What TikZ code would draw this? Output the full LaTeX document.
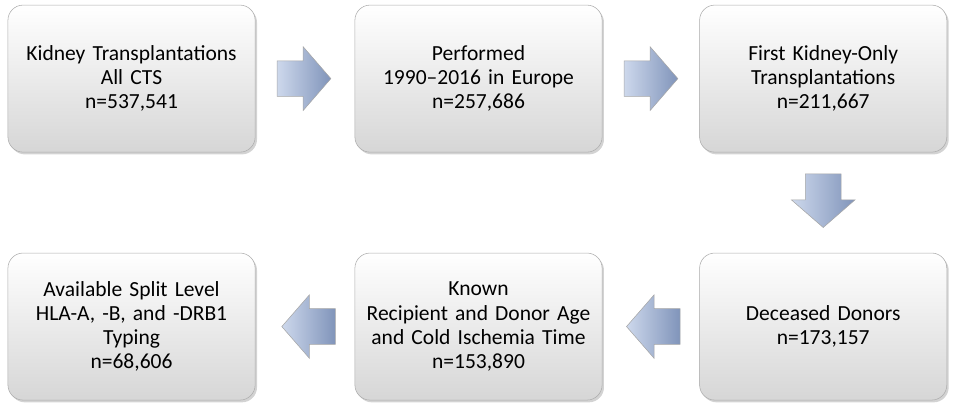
\documentclass[tikz,border=0pt]{standalone}
\usepackage{fontspec}
\setmainfont{Carlito}
\usepackage{xcolor}
\usepackage{tikz}
\usetikzlibrary{shapes.arrows, shadows, positioning, calc}

\definecolor{arrowlight}{RGB}{205,216,236}
\definecolor{arrowdark}{RGB}{128,148,186}
\definecolor{boxbottom}{RGB}{214,214,214}

\begin{document}
\begin{tikzpicture}[
    % Node styles
    stagebox/.style={rectangle, rounded corners=0.4cm, draw=gray!65, top color=white, bottom color=boxbottom, drop shadow={opacity=0.35, shadow xshift=0.05cm, shadow yshift=-0.06cm}, minimum width=6.54cm, minimum height=3.89cm, text centered, text width=6.3cm, font=\fontsize{16.2}{18.2}\selectfont},
    blockarrow/.style={single arrow, draw=gray!70, left color=arrowlight, right color=arrowdark, minimum height=1.42cm, single arrow head extend=0.37cm, single arrow tip angle=98, inner xsep=0pt, inner ysep=0.465cm, anchor=tail}
]

\useasboundingbox (0,0) rectangle (25.32,-10.90);

% === TOP ROW ===
\node[stagebox] (allcts) at (3.48, -2.08) {Kidney Transplantations\\All CTS\\n=537,541};
\node[stagebox] (europe) at (12.66, -2.08) {Performed\\1990--2016 in Europe\\n=257,686};
\node[stagebox] (firstkid) at (21.78, -2.08) {First Kidney-Only\\Transplantations\\n=211,667};

% === BOTTOM ROW ===
\node[stagebox] (deceased) at (21.78, -8.64) {Deceased Donors\\n=173,157};
\node[stagebox] (known) at (12.66, -8.64) {Known\\Recipient and Donor Age\\and Cold Ischemia Time\\n=153,890};
\node[stagebox] (hlatyping) at (3.48, -8.64) {Available Split Level\\HLA-A, -B, and -DRB1\\Typing\\n=68,606};

% Block arrows between the stages (tail just off the box they leave)
\node[blockarrow] (arr1) at ($(allcts.east)+(0.57,0)$) {};
\node[blockarrow] (arr2) at ($(europe.east)+(0.57,0)$) {};
\node[blockarrow, rotate=-90] (arr3) at ($(firstkid.south)+(0,-0.56)$) {};
\node[blockarrow, rotate=180] (arr4) at ($(deceased.west)+(-0.5,0)$) {};
\node[blockarrow, rotate=180] (arr5) at ($(known.west)+(-0.5,0)$) {};

\end{tikzpicture}
\end{document}
